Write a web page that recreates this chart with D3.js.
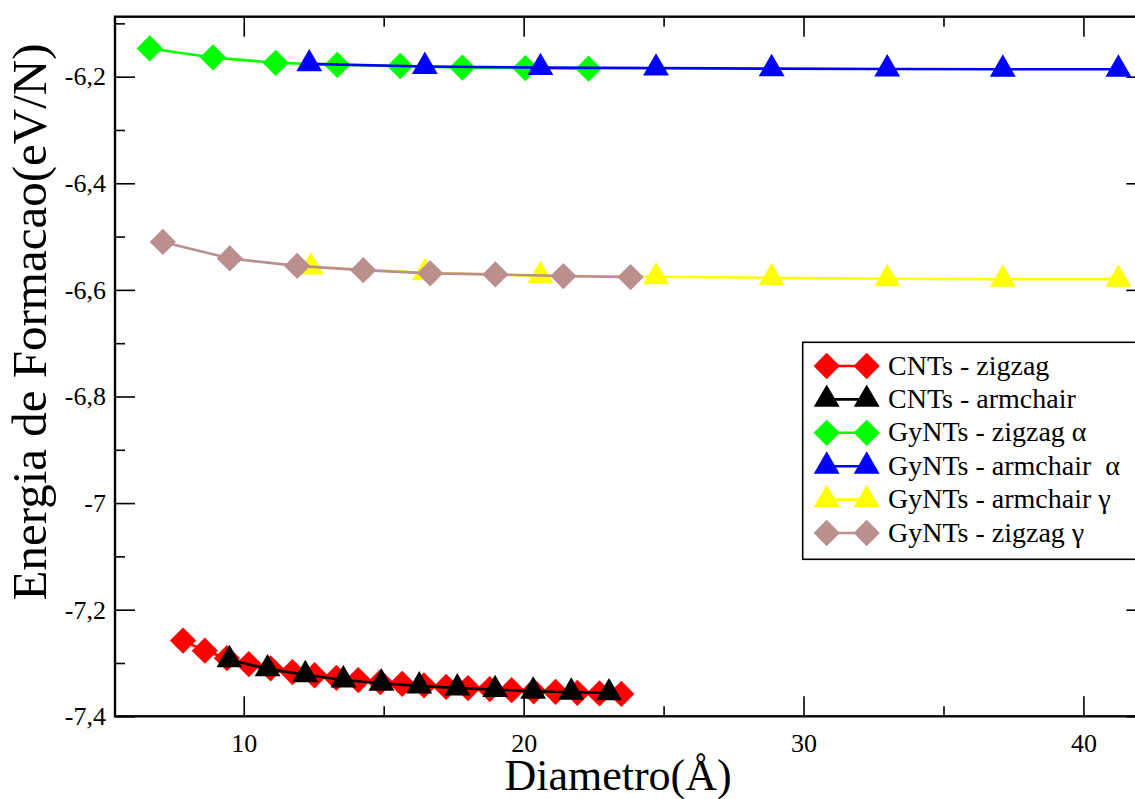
<!DOCTYPE html>
<html>
<head>
<meta charset="utf-8">
<script src="https://cdn.jsdelivr.net/npm/d3@7"></script>
<style>
  html, body { margin: 0; padding: 0; background: #fff; }
  svg { display: block; }
</style>
</head>
<body>
<svg id="chart" width="1135" height="799"></svg>
<script>
// Formation energy (eV/N) versus tube diameter (Å)
const cntZigzagD = [7.83, 8.61, 9.40, 10.18, 10.96, 11.74, 12.53, 13.31, 14.09, 14.88, 15.66,
                    16.44, 17.23, 18.01, 18.79, 19.57, 20.36, 21.14, 21.92, 22.71, 23.49];
const cntZigzagE = [-7.258, -7.277, -7.291, -7.302, -7.310, -7.317, -7.323, -7.328, -7.332, -7.336, -7.339,
                    -7.342, -7.345, -7.347, -7.349, -7.351, -7.353, -7.354, -7.356, -7.357, -7.358];

const cntArmchairD = [9.49, 10.85, 12.20, 13.56, 14.92, 16.27, 17.63, 18.98, 20.34, 21.70, 23.05];
const cntArmchairE = [-7.294, -7.311, -7.322, -7.332, -7.338, -7.343, -7.347, -7.350, -7.353, -7.355, -7.356];

const gyZigzagAlphaD = [6.64, 8.90, 11.14, 13.34, 15.59, 17.81, 20.06, 22.32];
const gyZigzagAlphaE = [-6.147, -6.164, -6.174, -6.178, -6.180, -6.183, -6.184, -6.185];

const gyArmchairAlphaD = [12.34, 16.47, 20.60, 24.73, 28.86, 32.99, 37.12, 41.25];
const gyArmchairAlphaE = [-6.176, -6.181, -6.183, -6.184, -6.185, -6.1855, -6.186, -6.186];

const gyArmchairGammaD = [12.40, 16.47, 20.60, 24.73, 28.86, 32.99, 37.12, 41.25];
const gyArmchairGammaE = [-6.557, -6.568, -6.5735, -6.5755, -6.5775, -6.579, -6.580, -6.580];

const gyZigzagGammaD = [7.11, 9.50, 11.91, 14.27, 16.66, 18.99, 21.42, 23.82];
const gyZigzagGammaE = [-6.510, -6.541, -6.555, -6.563, -6.569, -6.571, -6.574, -6.576];

const seriesNames = ["CNTs - zigzag", "CNTs - armchair", "GyNTs - zigzag \u03B1",
                     "GyNTs - armchair  \u03B1", "GyNTs - armchair \u03B3", "GyNTs - zigzag \u03B3"];
const seriesColors = ["#ff0000", "#000000", "#00ff00", "#0000ff", "#ffff00", "#bc8f8f"];
const seriesShapes = ["diamond", "triangle", "diamond", "triangle", "triangle", "diamond"];

const xMajorTicks = [10, 20, 30, 40];
const xMinorTicks = [15, 25, 35];
const yMajorTicks = [-7.4, -7.2, -7.0, -6.8, -6.6, -6.4, -6.2];
const yMinorTicks = [-7.3, -7.1, -6.9, -6.7, -6.5, -6.3, -6.1];

const xTitle = "Diametro(\u00C5)";
const yTitle = "Energia de Formacao(eV/N)";

const serifFont = "'Liberation Serif', 'Times New Roman', Times, serif";

const series = [
  [cntZigzagD, cntZigzagE], [cntArmchairD, cntArmchairE],
  [gyZigzagAlphaD, gyZigzagAlphaE], [gyArmchairAlphaD, gyArmchairAlphaE],
  [gyArmchairGammaD, gyArmchairGammaE], [gyZigzagGammaD, gyZigzagGammaE]
].map(([ds, es], i) => ({
  name: seriesNames[i], color: seriesColors[i], shape: seriesShapes[i],
  points: ds.map((d, j) => ({ d, e: es[j] }))
}));

const svg = d3.select("#chart");
const plotLeft = 115, plotRight = 1146.4, plotTop = 16.7, plotBottom = 716.3;

const x = d3.scaleLinear().domain([5.4, 42.25]).range([plotLeft, plotRight]);
const y = d3.scaleLinear().domain([-7.4, -6.0875]).range([plotBottom, plotTop]);

const fmtY = v => String(+v.toFixed(1)).replace(".", ",");

function styleAxis(g, width) {
  g.select(".domain").remove();
  g.selectAll(".tick line").attr("stroke", "#000").attr("stroke-width", width);
  g.selectAll(".tick text")
    .style("font-family", serifFont).style("font-size", "26px").attr("fill", "#000");
}

// bottom axis: ticks point inward, labels below
svg.append("g").attr("transform", `translate(0,${plotBottom})`)
  .call(d3.axisBottom(x).tickValues(xMajorTicks).tickSize(-20).tickPadding(17).tickFormat(d3.format("d")))
  .call(g => styleAxis(g, 1.6));
svg.append("g").attr("transform", `translate(0,${plotBottom})`)
  .call(d3.axisBottom(x).tickValues(xMinorTicks).tickSize(-10).tickFormat(""))
  .call(g => styleAxis(g, 1.6));

// top axis
svg.append("g").attr("transform", `translate(0,${plotTop})`)
  .call(d3.axisTop(x).tickValues(xMajorTicks).tickSize(-20).tickFormat(""))
  .call(g => styleAxis(g, 1.6));
svg.append("g").attr("transform", `translate(0,${plotTop})`)
  .call(d3.axisTop(x).tickValues(xMinorTicks).tickSize(-10).tickFormat(""))
  .call(g => styleAxis(g, 1.6));

// left axis
svg.append("g").attr("transform", `translate(${plotLeft},0)`)
  .call(d3.axisLeft(y).tickValues(yMajorTicks).tickSize(-20).tickPadding(9).tickFormat(fmtY))
  .call(g => styleAxis(g, 1.6));
svg.append("g").attr("transform", `translate(${plotLeft},0)`)
  .call(d3.axisLeft(y).tickValues(yMinorTicks).tickSize(-10).tickFormat(""))
  .call(g => styleAxis(g, 1.6));

// right axis
svg.append("g").attr("transform", `translate(${plotRight},0)`)
  .call(d3.axisRight(y).tickValues(yMajorTicks).tickSize(-20).tickFormat(""))
  .call(g => styleAxis(g, 1.6));
svg.append("g").attr("transform", `translate(${plotRight},0)`)
  .call(d3.axisRight(y).tickValues(yMinorTicks).tickSize(-10).tickFormat(""))
  .call(g => styleAxis(g, 1.6));

// frame
svg.append("rect")
  .attr("x", plotLeft).attr("y", plotTop)
  .attr("width", plotRight - plotLeft).attr("height", plotBottom - plotTop)
  .attr("fill", "none").attr("stroke", "#000").attr("stroke-width", 2.4);

// markers
const diamondPath = d3.symbol(d3.symbolSquare, 345)();
const trianglePath = d3.symbol(d3.symbolTriangle, 290)();
function marker(sel, shape, color) {
  sel.append("path")
    .attr("d", shape === "diamond" ? diamondPath : trianglePath)
    .attr("transform", shape === "diamond" ? "rotate(45)" : null)
    .attr("fill", color);
}

const line = d3.line().x(p => x(p.d)).y(p => y(p.e));

// each set: connecting line, then its markers
series.forEach(s => {
  const g = svg.append("g");
  g.append("path").datum(s.points)
    .attr("d", line).attr("fill", "none")
    .attr("stroke", s.color).attr("stroke-width", 2.6);
  g.selectAll("g.pt").data(s.points).join("g")
    .attr("class", "pt")
    .attr("transform", p => `translate(${x(p.d)},${y(p.e)})`)
    .each(function () { marker(d3.select(this), s.shape, s.color); });
});

// axis titles
svg.append("text")
  .attr("x", 618).attr("y", 790)
  .attr("text-anchor", "middle")
  .style("font-family", serifFont).style("font-size", "44px")
  .text(xTitle);
svg.append("text")
  .attr("transform", "translate(46,322) rotate(-90)")
  .attr("text-anchor", "middle")
  .style("font-family", serifFont).style("font-size", "49px")
  .text(yTitle);

// legend
const legend = svg.append("g");
legend.append("rect")
  .attr("x", 802.7).attr("y", 342.3)
  .attr("width", 345).attr("height", 217)
  .attr("fill", "#fff").attr("stroke", "#000").attr("stroke-width", 1.6);
series.forEach((s, i) => {
  const cy = 366 + i * 33.4;
  const row = legend.append("g");
  row.append("line")
    .attr("x1", 826.7).attr("x2", 866.7).attr("y1", cy).attr("y2", cy)
    .attr("stroke", s.color).attr("stroke-width", 2.6);
  [826.7, 866.7].forEach(cx => {
    marker(row.append("g").attr("transform", `translate(${cx},${cy})`), s.shape, s.color);
  });
  row.append("text")
    .attr("x", 888).attr("y", cy + 8.5)
    .style("font-family", serifFont).style("font-size", "28px")
    .style("white-space", "pre")
    .text(s.name);
});
</script>
</body>
</html>
